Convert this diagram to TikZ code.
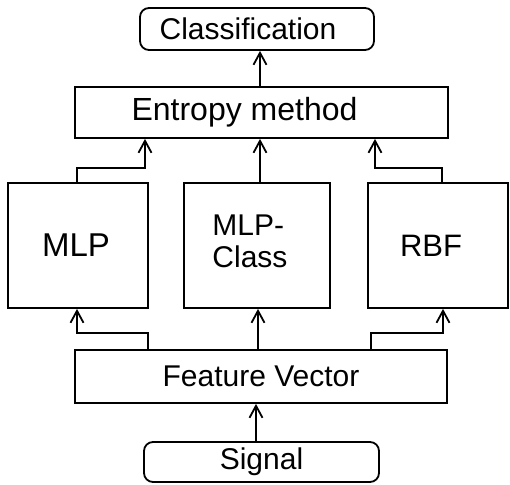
\documentclass[tikz,border=0pt]{standalone}
\usepackage{fontspec}
\setmainfont{Liberation Sans}
\usetikzlibrary{arrows.meta}
\begin{document}
\begin{tikzpicture}[x=1pt,y=-1pt,
  box/.style={draw,line width=1.8pt,inner sep=0pt},
  rbox/.style={box,rounded corners=9pt},
  arr/.style={line width=1.8pt,-{Straight Barb[length=12pt,width=13pt,line width=1.8pt]}}]
\useasboundingbox (0,0) rectangle (510,484);
\node[rbox,minimum width=234pt,minimum height=42pt,font=\fontsize{30}{32}\selectfont] (cls) at (257,29) {Classification\kern18pt};
\node[box,minimum width=373pt,minimum height=51pt,font=\fontsize{32}{34}\selectfont] (ent) at (261.5,112.5) {Entropy method\kern34pt};
\node[box,minimum width=140pt,minimum height=125pt,font=\fontsize{33}{35}\selectfont] (mlp) at (78,245.5) {MLP\kern4pt};
\node[box,minimum width=146pt,minimum height=125pt,font=\fontsize{30}{32}\selectfont] (mlpc) at (257,245.5) {\raisebox{-5pt}{\begin{tabular}{@{}l@{}}MLP-\\Class\end{tabular}}\kern14pt};
\node[box,minimum width=140pt,minimum height=125pt,font=\fontsize{31}{33}\selectfont] (rbf) at (438,245.5) {RBF\kern14pt};
\node[box,minimum width=372pt,minimum height=53pt,font=\fontsize{30}{32}\selectfont] (fv) at (261,376.5) {Feature Vector};
\node[rbox,minimum width=235pt,minimum height=40pt,font=\fontsize{30}{32}\selectfont] (sig) at (261.5,462) {Signal};
% top
\draw[arr] (260,0 |- ent.north) -- (260,0 |- cls.south);
\draw[arr] (77,0 |- mlp.north) -- (77,168) -- (145,168) -- (145,0 |- ent.south);
\draw[arr] (260,0 |- mlpc.north) -- (260,0 |- ent.south);
\draw[arr] (442,0 |- rbf.north) -- (442,168) -- (375,168) -- (375,0 |- ent.south);
% bottom
\draw[arr] (148,0 |- fv.north) -- (148,333) -- (77,333) -- (77,0 |- mlp.south);
\draw[arr] (258,0 |- fv.north) -- (258,0 |- mlpc.south);
\draw[arr] (371,0 |- fv.north) -- (371,333) -- (443,333) -- (443,0 |- rbf.south);
\draw[arr] (256,0 |- sig.north) -- (256,0 |- fv.south);
\end{tikzpicture}
\end{document}
